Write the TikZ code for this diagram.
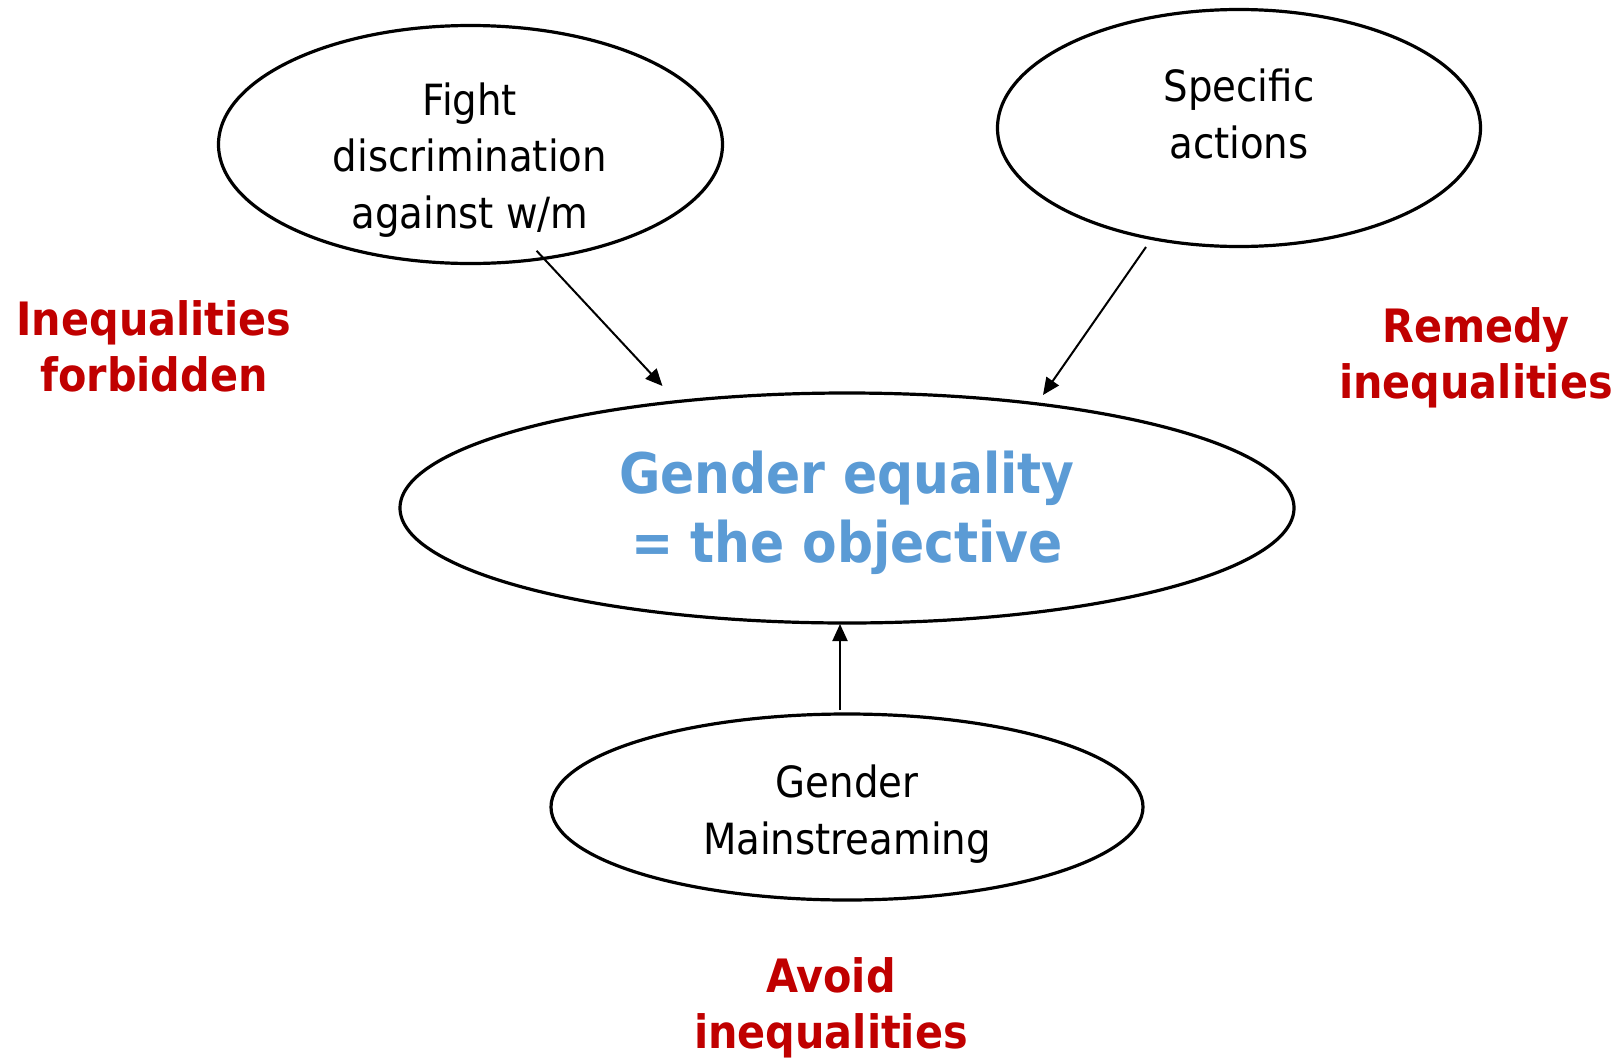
\documentclass[tikz,border=0pt]{standalone}
\usepackage{fontspec}
\setmainfont{DejaVu Sans Condensed}
\usetikzlibrary{shapes.geometric,arrows.meta}
\definecolor{labelred}{HTML}{C00000}
\definecolor{goalblue}{HTML}{5B9BD5}
\begin{document}
\begin{tikzpicture}[x=1pt,y=-1pt,
  oval/.style={ellipse, draw, line width=3.2pt, inner sep=0pt},
  plain/.style={font=\fontsize{43}{56.5}\selectfont, align=center, inner sep=0pt},
  goal/.style={font=\fontsize{56}{68.5}\selectfont\bfseries, text=goalblue, align=center, inner sep=0pt},
  note/.style={font=\fontsize{46}{56}\selectfont\bfseries, text=labelred, align=center, inner sep=0pt},
  link/.style={line width=2pt, -{Triangle[length=17pt,width=15pt]}}
]
\useasboundingbox (0,0) rectangle (1618,1058);

% ellipses
\node[oval, minimum width=504pt, minimum height=238pt] (fight) at (470.5,144.5) {};
\node[oval, minimum width=483pt, minimum height=237pt] (specific) at (1239,128) {};
\node[oval, minimum width=894pt, minimum height=230pt] (goal) at (847,508) {};
\node[oval, minimum width=592pt, minimum height=186pt] (gm) at (847,807) {};

% texts inside the ellipses
\node[plain] (fighttext) at (470,160) {Fight\\discrimination\\against w/m};
\node[plain] (spectext) at (1239,114) {Specific\\actions};
\node[goal] (goaltext) at (847,513) {Gender equality\\= the objective};
\node[plain] (gmtext) at (847,814) {Gender\\Mainstreaming};

% red side notes
\node[note] (forbidden) at (154,346) {Inequalities\\forbidden};
\node[note] (remedy) at (1476,358) {Remedy\\inequalities};
\node[note] (avoid) at (831,1008) {Avoid\\inequalities};

% arrow end points
\coordinate (a1s) at (536.6,250.8);
\coordinate (a1e) at (662.5,386);
\coordinate (a2s) at (1146,247);
\coordinate (a2e) at (1043,395);
\coordinate (a3s) at (840,710);
\coordinate (a3e) at (840,624);

\draw[link] (a1s) -- (a1e);
\draw[link] (a2s) -- (a2e);
\draw[link] (a3s) -- (a3e);
\end{tikzpicture}
\end{document}
